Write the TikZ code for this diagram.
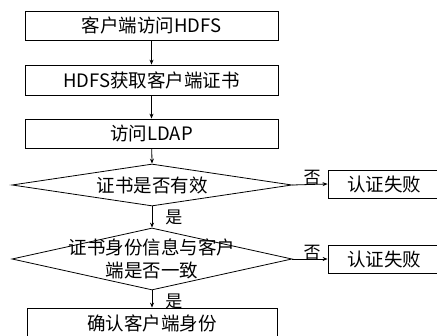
\documentclass[tikz,border=0pt]{standalone}
\usepackage{fontspec}
\setmainfont{Noto Sans CJK SC}
\usepackage{tikz}
\usetikzlibrary{shapes.geometric, arrows.meta}

\tikzset{
  stepbox/.style={draw, line width=0.8pt, anchor=center, inner sep=0pt},
  checkbox/.style={draw, diamond, line width=0.8pt, inner sep=0pt, minimum width=280pt},
  flow/.style={line width=0.8pt, -{Stealth[length=5pt, width=4pt]}},
  tag/.style={inner sep=1pt, font=\fontsize{17}{19}\selectfont}
}

\begin{document}
\begin{tikzpicture}[x=1pt, y=-1pt, font=\fontsize{18.5}{23}\selectfont]
  \useasboundingbox (0,0) rectangle (437,336);

  % main column
  \node[stepbox, minimum width=253pt, minimum height=29pt] (visit) at (151.5,25.5) {客户端访问HDFS};
  \node[stepbox, minimum width=253pt, minimum height=30pt] (cert) at (151.5,80) {HDFS获取客户端证书};
  \node[stepbox, minimum width=253pt, minimum height=29pt] (ldap) at (151.5,133.5) {访问LDAP};
  \node[checkbox, minimum height=42pt] (valid) at (152,185) {};
  \node at (valid) {证书是否有效};
  \node[checkbox, minimum height=62pt] (match) at (152,259) {};
  \node[align=center] at (match) {证书身份信息与客户\\端是否一致};
  \node[stepbox, minimum width=250pt, minimum height=38pt] (ok) at (152,327) {};
  \node at (152,323) {确认客户端身份};

  % failure branch
  \node[stepbox, minimum width=112pt, minimum height=28pt] (fail1) at (384,184) {认证失败};
  \node[stepbox, minimum width=112pt, minimum height=28pt] (fail2) at (384,259) {认证失败};

  \draw[flow] (visit) -- (cert);
  \draw[flow] (cert) -- (ldap);
  \draw[flow] (ldap) -- (valid.north);
  \draw[flow] (valid.south) -- node[tag, right, xshift=12pt] {是} (match.north);
  \draw[flow] (match.south) -- node[tag, right, xshift=12pt, yshift=-2pt] {是} (ok.north);
  \draw[flow] (valid.east) -- node[tag, above, xshift=2pt, yshift=-2pt] {否} (fail1.west);
  \draw[flow] (match.east) -- node[tag, above, xshift=2pt, yshift=-2pt] {否} (fail2.west);
\end{tikzpicture}
\end{document}
